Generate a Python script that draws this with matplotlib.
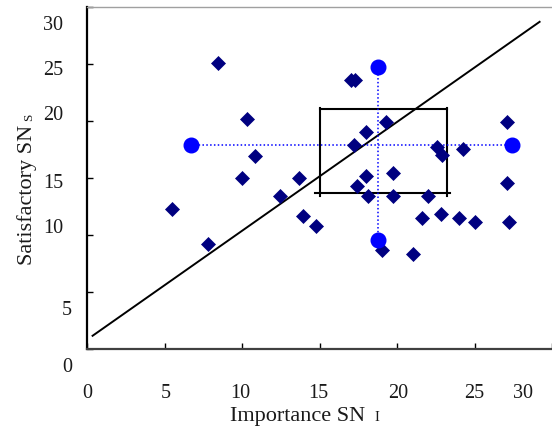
import matplotlib
matplotlib.use("Agg")
import matplotlib.pyplot as plt

# ---- data ----
imp = [8.42, 10.33, 10.82, 9.97, 13.69, 5.50, 12.42, 7.80, 13.95, 14.80,
       17.05, 17.30, 19.32, 18.00, 17.20, 22.58, 22.90, 24.25, 27.12, 18.00,
       19.71, 17.41, 18.16, 19.71, 21.98, 27.12, 21.62, 22.83, 24.00, 25.00,
       27.25, 19.01, 21.03]
sat = [25.11, 20.17, 16.90, 15.03, 15.03, 12.30, 13.46, 9.18, 11.65, 10.78,
       23.60, 23.60, 19.87, 19.06, 17.86, 17.72, 17.05, 17.57, 19.87, 15.15,
       15.45, 14.27, 13.46, 13.46, 13.46, 14.57, 11.45, 11.86, 11.45, 11.16,
       11.16, 8.65, 8.37]

mean_x = 18.75
mean_y = 17.88
h_ends_x = [6.70, 27.40]
v_ends_y = [9.53, 24.76]

diag_x = [0.36, 29.2]
diag_y = [1.16, 28.7]

box_x = [15.0, 23.2]
box_y = [13.65, 21.07]

x_ticks = [0, 5, 10, 15, 20, 25, 30]
y_ticks = [0, 5, 10, 15, 20, 25, 30]

# ---- layout (label offsets in pixels, as drawn in the reference) ----
x_lab_dx = [0.5, 1.3, -2, -1.4, 1, 0, -29.4]
y_lab_dx = [-15, -15, -24, -24, -24, -24, -24]
y_lab_dy = [-21.7, -22, 3.3, -9.3, 2, -10, -22]

W, H = 552, 431
fig = plt.figure(figsize=(W / 100, H / 100), dpi=100)
ax = fig.add_axes([87 / W, 1 - 350 / H, (W - 87) / W, 342 / H])
ax.set_xlim(0, 29.66)
ax.set_ylim(0, 30)

serif = "Liberation Serif"

ax.plot(diag_x, diag_y, color="black", lw=1.4, zorder=2)

# box
ax.plot([box_x[0], box_x[1]], [box_y[1], box_y[1]], color="black", lw=1.5, zorder=2)
ax.plot([box_x[0] - 0.3, box_x[1] + 0.25], [box_y[0], box_y[0]], color="black", lw=1.5, zorder=2)
ax.plot([box_x[0], box_x[0]], [box_y[0] - 0.2, box_y[1] + 0.1], color="black", lw=1.5, zorder=2)
ax.plot([box_x[1], box_x[1]], [box_y[0] - 0.2, box_y[1] + 0.1], color="black", lw=1.5, zorder=2)

# dotted cross
ax.plot(h_ends_x, [mean_y, mean_y], color="#0000FF", lw=1.1, ls=(0, (1, 1.5)), zorder=2)
ax.plot([mean_x, mean_x], v_ends_y, color="#0000FF", lw=1.1, ls=(0, (1, 1.5)), zorder=2)

ax.plot(imp, sat, ls="none", marker="D", ms=7.0, color="#000080",
        mec="#000080", mew=0.5, zorder=3)

ax.plot(h_ends_x, [mean_y, mean_y], ls="none", marker="o", ms=10.5,
        color="#0000FF", mec="#0000FF", zorder=4)
ax.plot([mean_x, mean_x], v_ends_y, ls="none", marker="o", ms=10.5,
        color="#0000FF", mec="#0000FF", zorder=4)

# spines
ax.spines["right"].set_visible(False)
ax.spines["top"].set_color("#a0a0a0")
ax.spines["top"].set_linewidth(1.0)
ax.spines["left"].set_color("black")
ax.spines["left"].set_linewidth(1.6)
ax.spines["bottom"].set_color("#404040")
ax.spines["bottom"].set_linewidth(1.6)

ax.set_xticks(x_ticks)
ax.set_yticks(y_ticks)
ax.tick_params(axis="both", direction="in", length=4.5, width=1.0,
               labelbottom=False, labelleft=False, color="black")

for v, dx in zip(x_ticks, x_lab_dx):
    ax.annotate(str(v), xy=(v, 0), xycoords=("data", "axes fraction"),
                xytext=(dx, -48.3), textcoords="offset pixels",
                ha="center", va="baseline", fontsize=14.5, family=serif,
                color="#1a1a1a", annotation_clip=False)

for v, dx, dy in zip(y_ticks, y_lab_dx, y_lab_dy):
    ax.annotate(str(v), xy=(0, v), xycoords=("axes fraction", "data"),
                xytext=(dx, dy), textcoords="offset pixels",
                ha="right", va="baseline", fontsize=14.5, family=serif,
                color="#1a1a1a", annotation_clip=False)

# axis titles
fig.text(365 / W, 1 - 421 / H, "Importance SN", ha="right", va="baseline",
         fontsize=16, family=serif, color="#1a1a1a")
fig.text(374 / W, 1 - 421 / H, "I", ha="left", va="baseline",
         fontsize=10.5, family=serif, color="#1a1a1a")

fig.text(32 / W, 1 - 125 / H, "Satisfactory SN", rotation=90,
         rotation_mode="anchor", ha="right", va="baseline",
         fontsize=16, family=serif, color="#1a1a1a")
fig.text(32 / W, 1 - 121 / H, "S", rotation=90,
         rotation_mode="anchor", ha="left", va="baseline",
         fontsize=9.5, family=serif, color="#1a1a1a")

fig.savefig("out.png", dpi=100)
